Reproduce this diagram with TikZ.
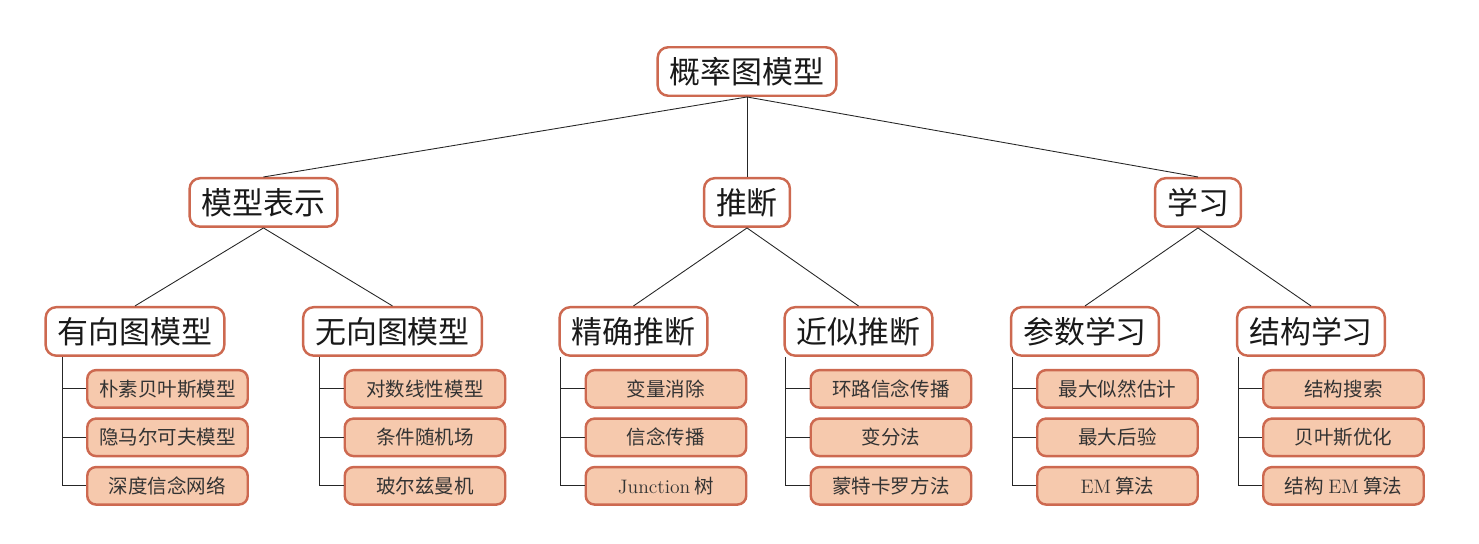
\documentclass[tikz,border=0pt]{standalone}
\usepackage{fontspec}
\newfontfamily\cjk{Noto Sans CJK SC}
\usetikzlibrary{positioning}

\definecolor{boxline}{RGB}{205,105,80}
\definecolor{leaffill}{RGB}{246,201,173}
\newcommand{\en}[1]{{\rmfamily #1}}

\begin{document}
\begin{tikzpicture}[
  font=\cjk,
  topic/.style={
    draw=boxline,
    rounded corners=6pt,
    line width=1.4pt,
    fill=white,
    inner xsep=2.4mm,
    inner ysep=0pt,
    minimum height=9.7mm,
    text=black!90,
    font=\cjk\fontsize{17.6}{20}\selectfont
  },
  leaf/.style={
    draw=boxline,
    rounded corners=5pt,
    line width=1.4pt,
    fill=leaffill,
    inner sep=0pt,
    minimum width=32.1mm,
    minimum height=7.5mm,
    text=black!80,
    font=\cjk\fontsize{11.1}{13}\selectfont
  },
  link/.style={line width=0.5pt, draw=black!85}
]

\node[topic] (pgm) at (0,0) {概率图模型};
\useasboundingbox (-14.94,-9.45) rectangle (14.64,1.43);

\node[topic, below=16mm of pgm, xshift=-96.7mm] (repr) {模型表示};
\node[topic, below=16mm of pgm] (infer) {推断};
\node[topic, below=16mm of pgm, xshift=90.2mm] (learn) {学习};

\node[topic, below=15.6mm of repr, xshift=-25.7mm] (dag) {有向图模型};
\node[topic, below=15.6mm of repr, xshift=25.8mm] (udg) {无向图模型};
\node[topic, below=15.6mm of infer, xshift=-22.7mm] (exact) {精确推断};
\node[topic, below=15.6mm of infer, xshift=22.3mm] (approx) {近似推断};
\node[topic, below=15.6mm of learn, xshift=-22.6mm] (param) {参数学习};
\node[topic, below=15.6mm of learn, xshift=22.6mm] (struct) {结构学习};

% leaves of each branch
\node[leaf, below=2.4mm of dag, xshift=6.5mm] (dag1) {朴素贝叶斯模型};
\node[leaf, below=1.7mm of dag1] (dag2) {隐马尔可夫模型};
\node[leaf, below=1.7mm of dag2] (dag3) {深度信念网络};

\node[leaf, below=2.4mm of udg, xshift=6.5mm] (udg1) {对数线性模型};
\node[leaf, below=1.7mm of udg1] (udg2) {条件随机场};
\node[leaf, below=1.7mm of udg2] (udg3) {玻尔兹曼机};

\node[leaf, below=2.4mm of exact, xshift=6.5mm] (exact1) {变量消除};
\node[leaf, below=1.7mm of exact1] (exact2) {信念传播};
\node[leaf, below=1.7mm of exact2] (exact3) {\en{Junction} 树};

\node[leaf, below=2.4mm of approx, xshift=6.5mm] (approx1) {环路信念传播};
\node[leaf, below=1.7mm of approx1] (approx2) {变分法};
\node[leaf, below=1.7mm of approx2] (approx3) {蒙特卡罗方法};

\node[leaf, below=2.4mm of param, xshift=6.5mm] (param1) {最大似然估计};
\node[leaf, below=1.7mm of param1] (param2) {最大后验};
\node[leaf, below=1.7mm of param2] (param3) {\en{EM} 算法};

\node[leaf, below=2.4mm of struct, xshift=6.5mm] (struct1) {结构搜索};
\node[leaf, below=1.7mm of struct1] (struct2) {贝叶斯优化};
\node[leaf, below=1.7mm of struct2] (struct3) {结构 \en{EM} 算法};

\draw[link] (pgm.south) -- (repr.north);
\draw[link] (pgm.south) -- (infer.north);
\draw[link] (pgm.south) -- (learn.north);
\draw[link] (repr.south) -- (dag.north);
\draw[link] (repr.south) -- (udg.north);
\draw[link] (infer.south) -- (exact.north);
\draw[link] (infer.south) -- (approx.north);
\draw[link] (learn.south) -- (param.north);
\draw[link] (learn.south) -- (struct.north);

% folder lines
\draw[link] ([xshift=-14.6mm]dag.south) |- (dag1.west)
  ([xshift=-14.6mm]dag.south) |- (dag2.west)
  ([xshift=-14.6mm]dag.south) |- (dag3.west);
\draw[link] ([xshift=-14.6mm]udg.south) |- (udg1.west)
  ([xshift=-14.6mm]udg.south) |- (udg2.west)
  ([xshift=-14.6mm]udg.south) |- (udg3.west);
\draw[link] ([xshift=-14.6mm]exact.south) |- (exact1.west)
  ([xshift=-14.6mm]exact.south) |- (exact2.west)
  ([xshift=-14.6mm]exact.south) |- (exact3.west);
\draw[link] ([xshift=-14.6mm]approx.south) |- (approx1.west)
  ([xshift=-14.6mm]approx.south) |- (approx2.west)
  ([xshift=-14.6mm]approx.south) |- (approx3.west);
\draw[link] ([xshift=-14.6mm]param.south) |- (param1.west)
  ([xshift=-14.6mm]param.south) |- (param2.west)
  ([xshift=-14.6mm]param.south) |- (param3.west);
\draw[link] ([xshift=-14.6mm]struct.south) |- (struct1.west)
  ([xshift=-14.6mm]struct.south) |- (struct2.west)
  ([xshift=-14.6mm]struct.south) |- (struct3.west);

\end{tikzpicture}
\end{document}
